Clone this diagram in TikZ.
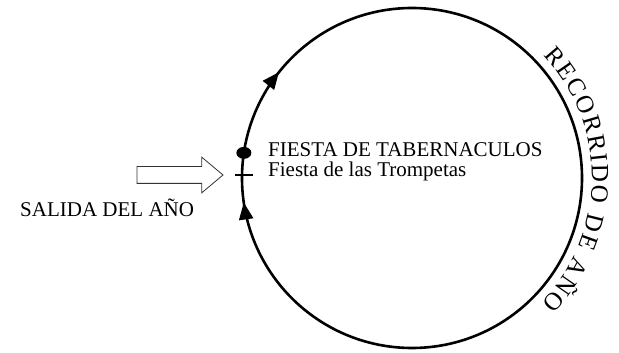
\documentclass[tikz,border=0pt]{standalone}
\usepackage{fontspec}
\setmainfont{Liberation Serif}
\usetikzlibrary{shapes.arrows, arrows.meta, decorations.markings, decorations.text, positioning}
\newcommand{\lblfont}{\fontsize{21}{24}\selectfont}
\tikzset{
  lbl/.style={font=\lblfont, inner sep=0pt},
  recorrido/.style={line width=2.6pt, postaction={decorate}, decoration={markings,
    mark=at position 0.393 with {\arrowreversed{Triangle[length=17pt,width=14pt]}},
    mark=at position 0.523 with {\arrowreversed{Triangle[length=17pt,width=14pt]}}}}
}
\begin{document}
\begin{tikzpicture}[x=1pt, y=1pt]
        \useasboundingbox (0,0) rectangle (619,353);
        \coordinate (c) at (412,175);
        % circle of the year
        \draw[recorrido] (c) circle[radius=170];
        \fill (c) ++(171.5:170) ellipse (7.5 and 6);
        \coordinate (marca) at (244,178);
        \draw[line width=2.4pt] ([xshift=-9pt]marca) -- ([xshift=9pt]marca);
        % entrance arrow
        \node[single arrow, draw=black!80, line width=0.8pt, minimum height=86pt,
          single arrow head extend=9.5pt, single arrow tip angle=80, inner xsep=0pt, inner ysep=8pt] (entrada) at (175,178) {};
        \node[lbl, anchor=base west] (salida) at (20,136) {SALIDA DEL AÑO};
        \node[lbl, anchor=base west] (tabernaculos) at (268,196) {FIESTA DE TABERNACULOS};
        \node[lbl, anchor=base west] (trompetas) at (268,176) {Fiesta de las Trompetas};
        % text along the circle
        \path[decorate, decoration={text along path, text={|\fontsize{25}{28}\selectfont|RECORRIDO DE AÑO},
          text align=fit to path}] (c) ++(43:180) arc[start angle=43, end angle=-44, radius=180];
    \end{tikzpicture}
\end{document}
